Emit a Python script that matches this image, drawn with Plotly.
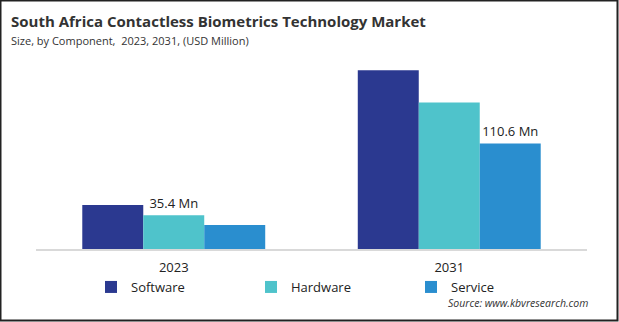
import plotly.graph_objects as go

# Market size by component, USD million
years = ["2023", "2031"]
software = [46.0, 187.3]
hardware = [35.4, 153.5]
service = [25.1, 110.6]

# value labels shown on selected bars
hardware_labels = ["35.4 Mn", ""]
service_labels = ["", "110.6 Mn"]

colors = {"Software": "#2B3990", "Hardware": "#4FC3CB", "Service": "#2A8ECF"}

W, H = 619, 322
ML, MR, MT, MB = 36, 32, 60, 73
PW, PH = W - ML - MR, H - MT - MB


def px_x(px):
    return (px - ML) / PW


def px_y(py):
    return (H - MB - py) / PH


fig = go.Figure()
fig.add_trace(go.Bar(name="Software", x=years, y=software,
                     marker=dict(color=colors["Software"], line=dict(width=0))))
fig.add_trace(go.Bar(name="Hardware", x=years, y=hardware, text=hardware_labels,
                     textposition="outside", cliponaxis=False,
                     textfont=dict(size=13, color="#222222"),
                     marker=dict(color=colors["Hardware"], line=dict(width=0))))
fig.add_trace(go.Bar(name="Service", x=years, y=service, text=service_labels,
                     textposition="outside", cliponaxis=False,
                     textfont=dict(size=13, color="#222222"),
                     marker=dict(color=colors["Service"], line=dict(width=0))))

fig.update_layout(
    width=W, height=H,
    margin=dict(l=ML, r=MR, t=MT, b=MB, autoexpand=False),
    paper_bgcolor="white", plot_bgcolor="white",
    font=dict(family="Open Sans", color="#222222"),
    barmode="group", bargap=0.336, bargroupgap=0,
    showlegend=True,
    legend=dict(orientation="h", xref="container", x=91 / W, xanchor="left",
                y=px_y(287), yanchor="middle", bgcolor="rgba(0,0,0,0)",
                entrywidth=115, entrywidthmode="pixels",
                font=dict(size=13, color="#222222"),
                itemclick=False, traceorder="normal"),
    xaxis=dict(showline=True, linecolor="#D9D9D9", linewidth=1.5, ticks="",
               ticklabelstandoff=6,
               tickfont=dict(size=13, color="#222222"), showgrid=False),
    yaxis=dict(range=[0, 198], visible=False, showgrid=False, zeroline=False),
)

# heading and subtitle
fig.add_annotation(text="<b>South Africa Contactless Biometrics Technology Market</b>",
                   xref="paper", yref="paper", x=px_x(9), y=px_y(21),
                   xanchor="left", yanchor="middle",
                   showarrow=False, font=dict(size=15, color="#333333"))
fig.add_annotation(text="Size, by Component,  2023, 2031, (USD Million)",
                   xref="paper", yref="paper", x=px_x(9), y=px_y(40),
                   xanchor="left", yanchor="middle",
                   showarrow=False, font=dict(size=11, color="#333333"))
fig.add_annotation(text="<i>Source: www.kbvresearch.com</i>",
                   xref="paper", yref="paper", x=px_x(590), y=px_y(303),
                   xanchor="right", yanchor="middle",
                   showarrow=False, font=dict(size=10.5, color="#333333"))

# outer frame
fig.add_shape(type="rect", xref="paper", yref="paper",
              x0=px_x(0.5), x1=px_x(617.5), y0=px_y(320.5), y1=px_y(0.5),
              line=dict(color="#222222", width=2), layer="above")

fig.write_html("out.html")
